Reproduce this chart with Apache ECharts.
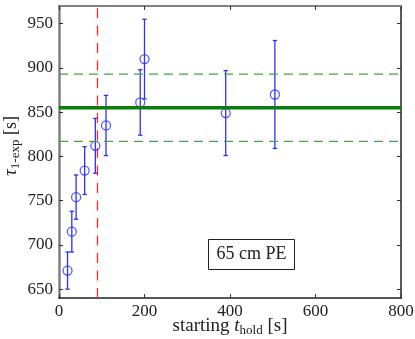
<!DOCTYPE html>
<html><head><meta charset="utf-8">
<script src="https://cdn.jsdelivr.net/npm/echarts@6/dist/echarts.min.js"></script>
<style>html,body{margin:0;padding:0;background:#fff}#c{width:415px;height:339px}</style>
</head><body><div id="c"></div>
<script>
// Data
const holdTimes = [20, 30, 40, 60, 85, 110, 190, 200, 390, 505];
const tauValues = [671, 715, 754, 784, 812, 835, 861, 910, 849, 870];
const tauErrors = [21, 23, 25, 27, 31, 34, 37, 45, 48, 61];
const fitValue = 855;
const fitError = 38;
const cutoffTime = 90;
const xTicks = [0, 200, 400, 600, 800];
const yTicks = [650, 700, 750, 800, 850, 900, 950];
const xRange = [0, 800];
const yRange = [640, 970];
const boxText = '65 cm PE';

const FONT = "'Liberation Serif', 'DejaVu Serif', serif";
const blue = '#2f2fff';
const points = holdTimes.map((x, i) => [x, tauValues[i]]);
const bars = holdTimes.map((x, i) => [x, tauValues[i] - tauErrors[i], tauValues[i] + tauErrors[i]]);

const chart = echarts.init(document.getElementById('c'), null, {renderer: 'canvas'});
const tickStyle = {inside: true, length: 4, lineStyle: {color: '#333'}};
const labelStyle = {
  color: '#222', fontFamily: FONT, fontSize: 17,
  formatter: function (v) { return '{n|' + v + '}'; },
  rich: {n: {fontFamily: FONT, fontSize: 17, color: '#222'}}
};
chart.setOption({
  animation: false,
  backgroundColor: '#fff',
  textStyle: {fontFamily: FONT},
  grid: {left: 59, right: 14, top: 6, bottom: 41, containLabel: false, outerBoundsMode: 'none'},
  xAxis: [
    {
      type: 'value', min: xRange[0], max: xRange[1], splitLine: {show: false},
      axisLine: {show: true, onZero: false, lineStyle: {color: '#222', width: 1.5}},
      axisTick: Object.assign({customValues: xTicks}, tickStyle),
      axisLabel: Object.assign({margin: 5, customValues: xTicks}, labelStyle),
      name: '{t|starting }{i|t}{s|hold}{t| [s]}',
      nameLocation: 'middle', nameGap: 17, nameMoveOverlap: false,
      nameTextStyle: {rich: {
        t: {fontFamily: FONT, fontSize: 19, color: '#222'},
        i: {fontFamily: FONT, fontSize: 19, fontStyle: 'italic', color: '#222'},
        s: {fontFamily: FONT, fontSize: 13, color: '#222', padding: [9, 0, 0, 0]}
      }}
    },
    {
      type: 'value', min: xRange[0], max: xRange[1], position: 'top', splitLine: {show: false},
      axisLine: {show: true, onZero: false, lineStyle: {color: '#808080', width: 2}},
      axisTick: Object.assign({customValues: xTicks}, tickStyle),
      axisLabel: {show: false, customValues: xTicks}
    }
  ],
  yAxis: [
    {
      type: 'value', min: yRange[0], max: yRange[1], splitLine: {show: false},
      axisLine: {show: true, onZero: false, lineStyle: {color: '#808080', width: 2.5}},
      axisTick: Object.assign({customValues: yTicks}, tickStyle),
      axisLabel: Object.assign({margin: 6, customValues: yTicks}, labelStyle),
      name: '{g|τ}{s|1-exp}{t| [s]}',
      nameLocation: 'middle', nameGap: 37, nameRotate: 90, nameMoveOverlap: false,
      nameTextStyle: {padding: [0, 0, 0, 12], rich: {
        g: {fontFamily: FONT, fontSize: 19, fontStyle: 'italic', color: '#222'},
        t: {fontFamily: FONT, fontSize: 18, color: '#222'},
        s: {fontFamily: FONT, fontSize: 13, color: '#222', padding: [9, 0, 0, 0]}
      }}
    },
    {
      type: 'value', min: yRange[0], max: yRange[1], position: 'right', splitLine: {show: false},
      axisLine: {show: true, onZero: false, lineStyle: {color: '#222', width: 1.5}},
      axisTick: Object.assign({customValues: yTicks}, tickStyle),
      axisLabel: {show: false, customValues: yTicks}
    }
  ],
  series: [
    {
      type: 'line', name: 'cutoff', data: [[cutoffTime, yRange[0]], [cutoffTime, yRange[1]]],
      symbol: 'none', color: '#ff2a2a', lineStyle: {color: '#ff2a2a', width: 1.3, type: [10, 7.5]}, z: 1
    },
    {
      type: 'custom', name: 'err',
      encode: {x: 0, y: [1, 2]},
      data: bars,
      renderItem: function (params, api) {
        const x = api.value(0), lo = api.value(1), hi = api.value(2);
        const p1 = api.coord([x, hi]), p2 = api.coord([x, lo]);
        const w = 2.2;
        const st = {stroke: blue, lineWidth: 1.3};
        return {type: 'group', children: [
          {type: 'line', shape: {x1: p1[0], y1: p1[1], x2: p2[0], y2: p2[1]}, style: st},
          {type: 'line', shape: {x1: p1[0] - w, y1: p1[1], x2: p1[0] + w, y2: p1[1]}, style: st},
          {type: 'line', shape: {x1: p2[0] - w, y1: p2[1], x2: p2[0] + w, y2: p2[1]}, style: st}
        ]};
      },
      z: 2
    },
    {
      type: 'scatter', name: 'tau', data: points,
      symbol: 'circle', symbolSize: 9,
      itemStyle: {color: 'rgba(0,0,0,0)', borderColor: blue, borderWidth: 1.3}, z: 3
    },
    {
      type: 'line', name: 'fitUp', data: [[xRange[0], fitValue + fitError], [xRange[1], fitValue + fitError]],
      symbol: 'none', color: '#47a447', lineStyle: {color: '#47a447', width: 1.2, type: [9, 6]}, z: 4
    },
    {
      type: 'line', name: 'fitDown', data: [[xRange[0], fitValue - fitError], [xRange[1], fitValue - fitError]],
      symbol: 'none', color: '#47a447', lineStyle: {color: '#47a447', width: 1.2, type: [9, 6]}, z: 4
    },
    {
      type: 'line', name: 'fit', data: [[xRange[0], fitValue], [xRange[1], fitValue]],
      symbol: 'none', color: '#0b7d0b', lineStyle: {color: '#0b7d0b', width: 3.5}, z: 5
    }
  ],
  graphic: [{
    type: 'group', left: 208, top: 239, z: 10,
    children: [
      {type: 'rect', shape: {x: 0, y: 0, width: 86, height: 30}, style: {fill: '#fff', stroke: '#222', lineWidth: 1}},
      {type: 'text', x: 43, y: 15, style: {text: boxText, fontFamily: FONT, fontSize: 18, fill: '#222', align: 'center', verticalAlign: 'middle'}}
    ]
  }]
});
</script></body></html>
